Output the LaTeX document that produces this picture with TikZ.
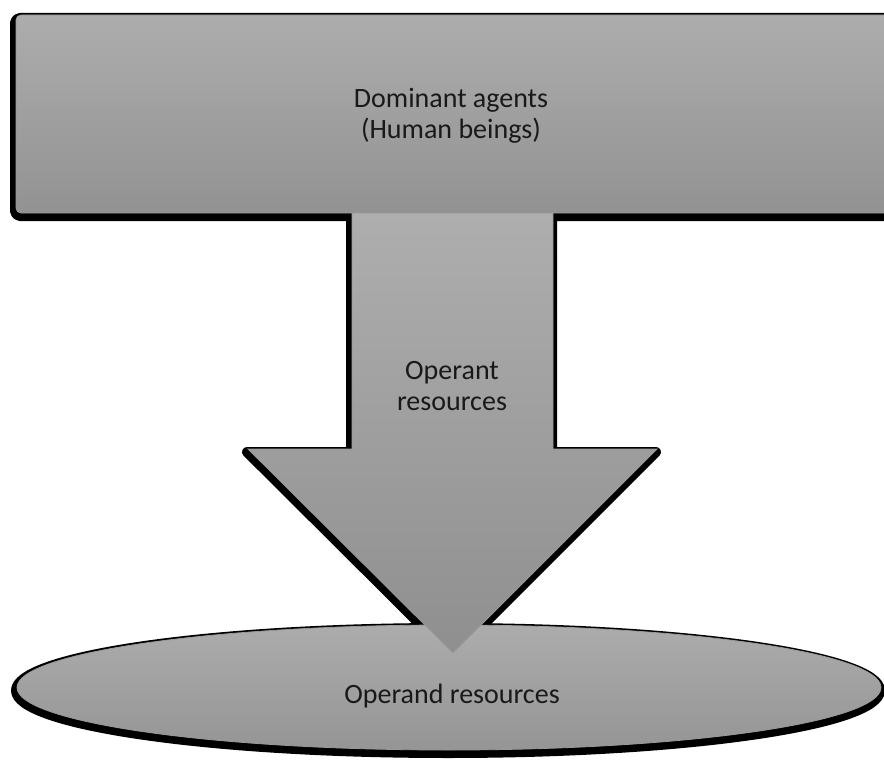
\documentclass[tikz,border=0pt]{standalone}
\usepackage{fontspec}
\setmainfont{Carlito}
\begin{document}
\begin{tikzpicture}[x=1pt,y=-1pt,
  shadowshape/.style={fill=black,draw=black,line width=10pt,line join=round,shift={(-1,3)}},
  lbl/.style={font=\fontsize{28}{31}\selectfont,align=center,text=black!90,inner sep=0pt}]
\useasboundingbox (0,0) rectangle (884,765);
% shadows
\fill[shadowshape] (352,213) -- (553,213) -- (553,449) -- (657,449) -- (453,653) -- (248,449) -- (352,449) -- cycle;
\fill[shadowshape,rounded corners=5pt] (16,15) rectangle (920,213);
% rectangle body
\path[draw=gray!80,line width=0.8pt,rounded corners=5pt,top color={rgb,255:red,173;green,173;blue,173},bottom color={rgb,255:red,146;green,146;blue,146}] (16,15) rectangle (920,213);
\node[lbl] (top) at (451,116) {Dominant agents\\(Human beings)};
% ellipse
\fill[shadowshape] (449,687.5) ellipse [x radius=432, y radius=62.5];
\path[draw=gray!80,line width=0.8pt,top color={rgb,255:red,172;green,172;blue,172},bottom color={rgb,255:red,149;green,149;blue,149}] (449,687.5) ellipse [x radius=432, y radius=62.5];
\node[lbl,anchor=base] (operand) at (452,703) {Operand resources};
% arrow body
\path[draw=gray!80,line width=0.8pt,top color={rgb,255:red,174;green,174;blue,174},bottom color={rgb,255:red,143;green,143;blue,143}] (352,213) -- (553,213) -- (553,449) -- (657,449) -- (453,653) -- (248,449) -- (352,449) -- cycle;
\node[lbl] (operant) at (452,386) {Operant\\resources};
\end{tikzpicture}
\end{document}
